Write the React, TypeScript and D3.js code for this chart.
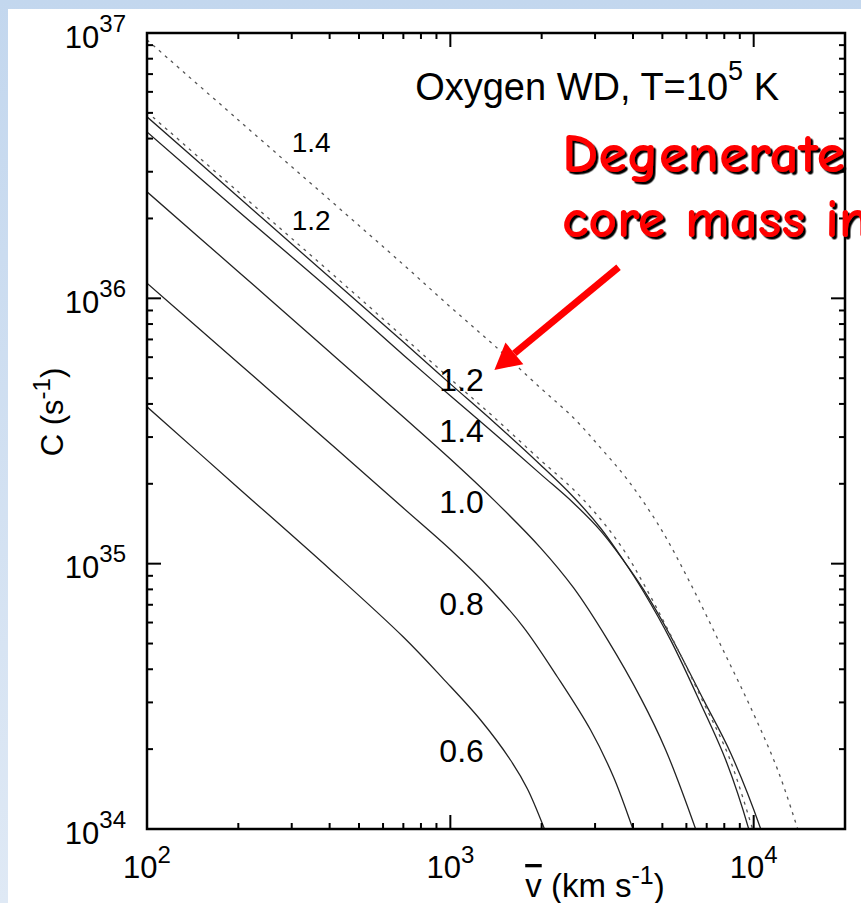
import React from 'react';
import * as d3 from 'd3';

const W = 861;
const H = 903;
const PLOT = { left: 147, right: 845, top: 33, bottom: 829 };

// axes
const xDomain = [1e2, 2e4];
const yDomain = [1e34, 1e37];
const xTickValues = [1e2, 1e3, 1e4];
const xTickExps = ['2', '3', '4'];
const yTickValues = [1e34, 1e35, 1e36, 1e37];
const yTickExps = ['34', '35', '36', '37'];

// M = 0.6 (solid)
const v06 = [100, 200, 400, 700, 948, 1256, 1578, 1796, 2043, 2138];
const c06 = [3.9e35, 1.93e35, 9.55e34, 5.29e34, 3.68e34, 2.58e34, 1.82e34, 1.415e34, 1.0e34, 8.7e33];
// M = 0.8 (solid)
const v08 = [100, 200, 400, 700, 1000, 1355, 1741, 2255, 2900, 3451, 4000, 4238];
const c08 = [1.14e36, 5.71e35, 2.85e35, 1.62e35, 1.13e35, 8.03e34, 5.77e34, 3.74e34, 2.36e34, 1.57e34, 1.0e34, 8.33e33];
// M = 1.0 (solid)
const v10 = [100, 200, 400, 700, 1000, 1390, 1980, 2550, 3300, 4240, 5124, 6436, 6787];
const c10 = [2.52e36, 1.26e36, 6.28e35, 3.57e35, 2.48e35, 1.74e35, 1.15e35, 8.1e34, 5.16e34, 3.12e34, 1.99e34, 1.0e34, 8.33e33];
// M = 1.2 (solid)
const v12 = [100, 200, 400, 700, 1000, 1390, 1980, 2550, 3130, 3720, 4340, 5320, 6680, 8090, 9630, 9920];
const c12 = [4.83e36, 2.41e36, 1.2e36, 6.85e35, 4.76e35, 3.42e35, 2.36e35, 1.78e35, 1.36e35, 1.03e35, 7.82e34, 5.16e34, 2.98e34, 1.82e34, 1.0e34, 8.7e33];
// M = 1.4 (solid)
const v14 = [100, 200, 400, 700, 1000, 1390, 1980, 2550, 3130, 3720, 4340, 5320, 6840, 8400, 10550, 10950];
const c14 = [4.24e36, 2.13e36, 1.08e36, 6.12e35, 4.29e35, 3.11e35, 2.18e35, 1.69e35, 1.33e35, 1.03e35, 7.96e34, 5.34e34, 3.06e34, 1.93e34, 1.0e34, 8.7e33];
// M = 1.2 (dotted)
const v12d = [100, 200, 400, 700, 1000, 1390, 1980, 2550, 3130, 3720, 4340, 5320, 6790, 8270, 9920, 10310];
const c12d = [5.04e36, 2.52e36, 1.26e36, 7.15e35, 4.97e35, 3.57e35, 2.46e35, 1.9e35, 1.47e35, 1.13e35, 8.38e34, 5.39e34, 3.04e34, 1.88e34, 1.0e34, 8.7e33];
// M = 1.4 (dotted)
const v14d = [100, 200, 400, 700, 1000, 1390, 1980, 2550, 3130, 3840, 4930, 6200, 7780, 10000, 12000, 13970, 14510];
const c14d = [9.42e36, 4.7e36, 2.35e36, 1.34e36, 9.28e35, 6.67e35, 4.6e35, 3.54e35, 2.73e35, 2.07e35, 1.36e35, 8.38e34, 4.94e34, 2.71e34, 1.67e34, 1.0e34, 8.7e33];

const series = [
  { name: '0.6', v: v06, c: c06, dotted: false },
  { name: '0.8', v: v08, c: c08, dotted: false },
  { name: '1.0', v: v10, c: c10, dotted: false },
  { name: '1.2', v: v12, c: c12, dotted: false },
  { name: '1.4', v: v14, c: c14, dotted: false },
  { name: '1.2 dotted', v: v12d, c: c12d, dotted: true },
  { name: '1.4 dotted', v: v14d, c: c14d, dotted: true },
];

// curve labels: text, v (left edge), C (baseline), size
const labelTexts = ['1.4', '1.2', '1.2', '1.4', '1.0', '0.8', '0.6'];
const labelV = [300, 300, 920, 920, 920, 920, 920];
const labelC = [3.56e36, 1.81e36, 4.48e35, 2.88e35, 1.55e35, 6.41e34, 1.79e34];
const labelSize = [28, 28, 32, 32, 32, 32, 32];

// arrow annotation (data coords)
const arrowTail = [3585, 1.31e36];
const arrowTip = [1397, 5.37e35];

const FONT = "'Liberation Sans', Arial, Helvetica, sans-serif";
const COMIC = "'Comic Sans MS', 'Comic Neue', 'Liberation Sans', Arial, sans-serif";

export default function App() {
  const x = d3.scaleLog().domain(xDomain).range([PLOT.left, PLOT.right]);
  const y = d3.scaleLog().domain(yDomain).range([PLOT.bottom, PLOT.top]);

  const line = d3
    .line<[number, number]>()
    .x((d) => x(d[0]))
    .y((d) => y(d[1]))
    .curve(d3.curveCatmullRom.alpha(0.5));

  const xt = x.ticks();
  const yt = y.ticks();
  const isMajor = (v: number) => Math.abs(Math.log10(v) - Math.round(Math.log10(v))) < 1e-6;

  const tx = x(arrowTail[0]);
  const ty = y(arrowTail[1]);
  const hx = x(arrowTip[0]);
  const hy = y(arrowTip[1]);
  const dx = hx - tx;
  const dy = hy - ty;
  const len = Math.sqrt(dx * dx + dy * dy);
  const ux = dx / len;
  const uy = dy / len;
  const headLen = 26;
  const headW = 14;
  const bx = hx - ux * headLen;
  const by = hy - uy * headLen;
  const head = `${hx},${hy} ${bx - uy * headW},${by + ux * headW} ${bx + uy * headW},${by - ux * headW}`;

  return (
    <svg
      width={W}
      height={H}
      style={{ position: 'absolute', left: 0, top: 0, display: 'block' }}
      fontFamily={FONT}
    >
      <defs>
        <linearGradient id="bg" x1="0" y1="0" x2="0" y2="1">
          <stop offset="0" stopColor="#c3d7ee" />
          <stop offset="1" stopColor="#dfe9f5" />
        </linearGradient>
        <clipPath id="plotclip">
          <rect x={PLOT.left} y={PLOT.top} width={PLOT.right - PLOT.left} height={PLOT.bottom - PLOT.top} />
        </clipPath>
        <clipPath id="panelclip">
          <rect x={8} y={9} width={W - 8} height={H - 9} />
        </clipPath>
        <filter id="shadow" x="-5%" y="-20%" width="115%" height="150%">
          <feDropShadow dx={2.5} dy={2.5} stdDeviation={0.4} floodColor="#000" floodOpacity={1} />
        </filter>
      </defs>
      <rect x={0} y={0} width={W} height={H} fill="url(#bg)" />
      <rect x={8} y={9} width={W - 8} height={H - 9} fill="#ffffff" />

      {/* curves */}
      <g clipPath="url(#plotclip)">
        {series.map((s) => (
          <path
            key={s.name}
            d={line(s.v.map((v, i) => [v, s.c[i]] as [number, number])) || ''}
            fill="none"
            stroke={s.dotted ? '#555' : '#222'}
            strokeWidth={1.3}
            strokeDasharray={s.dotted ? '3,5' : undefined}
          />
        ))}
      </g>

      {/* frame */}
      <rect
        x={PLOT.left}
        y={PLOT.top}
        width={PLOT.right - PLOT.left}
        height={PLOT.bottom - PLOT.top}
        fill="none"
        stroke="#000"
        strokeWidth={2.5}
      />

      {/* x ticks */}
      {xt.map((t, i) => {
        const L = isMajor(t) ? 14 : 6;
        const px = x(t);
        if (px <= PLOT.left + 0.5 || px >= PLOT.right - 0.5) return null;
        return (
          <g key={'xt' + i}>
            <line x1={px} x2={px} y1={PLOT.bottom} y2={PLOT.bottom - L} stroke="#000" strokeWidth={2} />
            <line x1={px} x2={px} y1={PLOT.top} y2={PLOT.top + L} stroke="#000" strokeWidth={2} />
          </g>
        );
      })}
      {/* y ticks */}
      {yt.map((t, i) => {
        const L = isMajor(t) ? 14 : 6;
        const py = y(t);
        if (py >= PLOT.bottom - 0.5 || py <= PLOT.top + 0.5) return null;
        return (
          <g key={'yt' + i}>
            <line x1={PLOT.left} x2={PLOT.left + L} y1={py} y2={py} stroke="#000" strokeWidth={2} />
            <line x1={PLOT.right} x2={PLOT.right - L} y1={py} y2={py} stroke="#000" strokeWidth={2} />
          </g>
        );
      })}

      {/* x tick labels */}
      {xTickValues.map((t, i) => (
        <text key={'xl' + i} x={x(t)} y={878} textAnchor="middle" fontSize={31} fill="#000">
          10
          <tspan dy={-15} fontSize={24}>
            {xTickExps[i]}
          </tspan>
        </text>
      ))}
      {/* y tick labels */}
      {yTickValues.map((t, i) => (
        <text key={'yl' + i} x={126} y={y(t) + 14.5} textAnchor="end" fontSize={31} fill="#000">
          10
          <tspan dy={-16} fontSize={24}>
            {yTickExps[i]}
          </tspan>
        </text>
      ))}

      {/* axis titles */}
      <text x={595} y={897} textAnchor="middle" fontSize={33} fill="#000">
        <tspan style={{ textDecoration: 'overline' }}>v</tspan> (km s
        <tspan dy={-13} fontSize={25}>
          -1
        </tspan>
        <tspan dy={13}>)</tspan>
      </text>
      <text transform="translate(63,412) rotate(-90)" textAnchor="middle" fontSize={31} fill="#000">
        C (s
        <tspan dy={-13} fontSize={24}>
          -1
        </tspan>
        <tspan dy={13}>)</tspan>
      </text>

      {/* curve labels */}
      {labelTexts.map((t, i) => (
        <text key={'cl' + i} x={x(labelV[i])} y={y(labelC[i])} fontSize={labelSize[i]} fill="#000">
          {t}
        </text>
      ))}

      {/* plot title */}
      <text x={779} y={100} textAnchor="end" fontSize={38} fill="#000">
        Oxygen WD, T=10
        <tspan dy={-20} fontSize={27}>
          5
        </tspan>
        <tspan dy={20}> K</tspan>
      </text>

      {/* red annotation */}
      <g clipPath="url(#panelclip)">
        <g fontFamily={COMIC} fontSize={55} fontWeight="bold" fill="#ff0000" filter="url(#shadow)">
          <text x={562} y={172} textLength={283} lengthAdjust="spacingAndGlyphs">
            Degenerate
          </text>
          <text x={562} y={237} textLength={307} lengthAdjust="spacingAndGlyphs">
            core mass in
          </text>
        </g>
      </g>
      <line x1={tx} y1={ty} x2={bx} y2={by} stroke="#ff0000" strokeWidth={7} />
      <polygon points={head} fill="#ff0000" />
    </svg>
  );
}
